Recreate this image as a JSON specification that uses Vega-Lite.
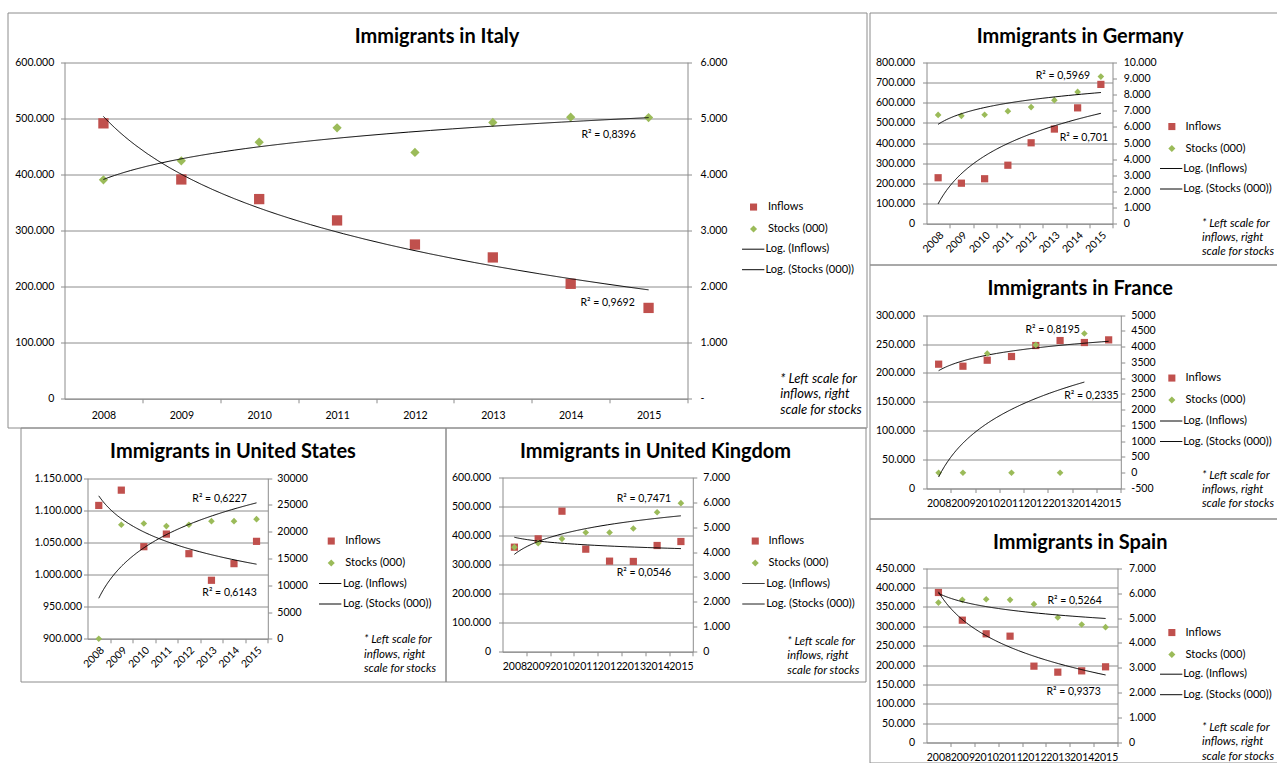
{
  "$schema": "https://vega.github.io/schema/vega-lite/v6.json",
  "padding": {"left": 6.5, "top": 11.5, "right": 0, "bottom": 0},
  "datasets": {
    "mig": [
      {"c": "Italy", "i": 1, "inflows": 491000, "stocks": 3904},
      {"c": "Italy", "i": 2, "inflows": 391000, "stocks": 4242},
      {"c": "Italy", "i": 3, "inflows": 356000, "stocks": 4574},
      {"c": "Italy", "i": 4, "inflows": 318000, "stocks": 4830},
      {"c": "Italy", "i": 5, "inflows": 275000, "stocks": 4391},
      {"c": "Italy", "i": 6, "inflows": 252000, "stocks": 4926},
      {"c": "Italy", "i": 7, "inflows": 205000, "stocks": 5020},
      {"c": "Italy", "i": 8, "inflows": 162000, "stocks": 5014},
      {"c": "Germany", "i": 1, "inflows": 228000, "stocks": 6740},
      {"c": "Germany", "i": 2, "inflows": 201000, "stocks": 6680},
      {"c": "Germany", "i": 3, "inflows": 223000, "stocks": 6750},
      {"c": "Germany", "i": 4, "inflows": 290000, "stocks": 6970},
      {"c": "Germany", "i": 5, "inflows": 401000, "stocks": 7220},
      {"c": "Germany", "i": 6, "inflows": 469000, "stocks": 7650},
      {"c": "Germany", "i": 7, "inflows": 574000, "stocks": 8160},
      {"c": "Germany", "i": 8, "inflows": 690000, "stocks": 9110},
      {"c": "France", "i": 1, "inflows": 215200, "stocks": 0},
      {"c": "France", "i": 2, "inflows": 211700, "stocks": 0},
      {"c": "France", "i": 3, "inflows": 222100, "stocks": 3783},
      {"c": "France", "i": 4, "inflows": 228500, "stocks": 0},
      {"c": "France", "i": 5, "inflows": 247500, "stocks": 4058},
      {"c": "France", "i": 6, "inflows": 256100, "stocks": 0},
      {"c": "France", "i": 7, "inflows": 252700, "stocks": 4418},
      {"c": "France", "i": 8, "inflows": 257300, "stocks": null},
      {"c": "Spain", "i": 1, "inflows": 387300, "stocks": 5620},
      {"c": "Spain", "i": 2, "inflows": 315800, "stocks": 5730},
      {"c": "Spain", "i": 3, "inflows": 280600, "stocks": 5755},
      {"c": "Spain", "i": 4, "inflows": 274500, "stocks": 5730},
      {"c": "Spain", "i": 5, "inflows": 197100, "stocks": 5555},
      {"c": "Spain", "i": 6, "inflows": 181600, "stocks": 5020},
      {"c": "Spain", "i": 7, "inflows": 185000, "stocks": 4738},
      {"c": "Spain", "i": 8, "inflows": 195400, "stocks": 4631},
      {"c": "US", "i": 1, "inflows": 1107600, "stocks": 0},
      {"c": "US", "i": 2, "inflows": 1131400, "stocks": 21300},
      {"c": "US", "i": 3, "inflows": 1043400, "stocks": 21540},
      {"c": "US", "i": 4, "inflows": 1063000, "stocks": 21050},
      {"c": "US", "i": 5, "inflows": 1032500, "stocks": 21300},
      {"c": "US", "i": 6, "inflows": 991100, "stocks": 21970},
      {"c": "US", "i": 7, "inflows": 1017000, "stocks": 21970},
      {"c": "US", "i": 8, "inflows": 1051700, "stocks": 22350},
      {"c": "UK", "i": 1, "inflows": 359500, "stocks": 4194},
      {"c": "UK", "i": 2, "inflows": 388200, "stocks": 4355},
      {"c": "UK", "i": 3, "inflows": 483200, "stocks": 4529},
      {"c": "UK", "i": 4, "inflows": 352700, "stocks": 4782},
      {"c": "UK", "i": 5, "inflows": 311500, "stocks": 4782},
      {"c": "UK", "i": 6, "inflows": 310500, "stocks": 4943},
      {"c": "UK", "i": 7, "inflows": 365300, "stocks": 5597},
      {"c": "UK", "i": 8, "inflows": 379000, "stocks": 5958}
    ]
  },
  "bounds": "full",
  "spacing": 1,
  "resolve": {"scale": {"color": "independent", "shape": "independent", "strokeDash": "independent"}},
  "hconcat": [
    {
      "bounds": "flush",
      "spacing": 0,
      "resolve": {"scale": {"color": "independent", "shape": "independent", "strokeDash": "independent"}},
      "vconcat": [
        {
          "width": 859, "height": 415,
          "view": {"stroke": "#8c8c8c"},
          "title": {"text": "Immigrants in Italy"},
          "data": {"name": "mig"},
          "transform": [{"filter": "datum.c == 'Italy'"}],
          "layer": [
            {"layer": [
              {"mark": {"type": "point", "filled": true, "opacity": 1, "size": 106},
               "encoding": {
                 "x": {"field": "i", "type": "quantitative",
                       "scale": {"domain": [0.5, 8.5], "range": [57, 680], "nice": false, "zero": false},
                       "axis": {"values": [1,2,3,4,5,6,7,8], "tickCount": 30, "labelExpr": "'' + (2007 + datum.value)",
                                "tickOffset": 38.94, "labelOffset": -38.94,
                                "offset": -28.7, "labelPadding": 7.5, "labelAngle": 0, "title": null}},
                 "y": {"field": "inflows", "type": "quantitative",
                       "scale": {"domain": [0, 600000], "range": [386.3, 49.7], "nice": false, "zero": false},
                       "axis": {"orient": "left", "values": [0,100000,200000,300000,400000,500000,600000], "tickCount": 30, "format": ",d",
                                "offset": -57, "labelPadding": 6.7, "grid": true, "title": null}},
                 "color": {"datum": "Inflows", "scale": {"domain": ["Inflows", "Stocks (000)"], "range": ["#C0504D", "#9BBB59"]},
                           "legend": {"orient": "none", "legendX": 740.5, "legendY": 189, "title": null, "symbolSize": 50, "labelOffset": 8.8, "rowPadding": 10}},
                 "shape": {"datum": "Inflows", "scale": {"domain": ["Inflows", "Stocks (000)"], "range": ["square", "diamond"]},
                           "legend": {"orient": "none", "legendX": 740.5, "legendY": 189, "title": null, "symbolSize": 50, "labelOffset": 8.8, "rowPadding": 10}}
               }},
              {"transform": [{"regression": "inflows", "on": "i", "method": "log"}],
               "mark": {"type": "line", "color": "#000", "strokeWidth": 1},
               "encoding": {
                 "x": {"field": "i", "type": "quantitative"},
                 "y": {"field": "inflows", "type": "quantitative"},
                 "strokeDash": {"datum": "Log. (Inflows)", "scale": {"domain": ["Log. (Inflows)", "Log. (Stocks (000))"], "range": [[1, 0], [1, 0]]},
                                "legend": {"orient": "none", "legendX": 733.7, "legendY": 224.7, "title": null, "symbolType": "stroke", "symbolSize": 497, "symbolStrokeWidth": 1, "symbolStrokeColor": "#000", "labelOffset": 0.3, "rowPadding": 2.5}}
               }},
              {"transform": [{"regression": "inflows", "on": "i", "method": "log"}, {"filter": "datum.i > 7.99"}],
               "mark": {"type": "text", "text": "R² = 0,9692", "dx": -41, "dy": 13},
               "encoding": {"x": {"field": "i", "type": "quantitative"}, "y": {"field": "inflows", "type": "quantitative"}}}
            ]},
            {"layer": [
              {"mark": {"type": "point", "filled": true, "opacity": 1, "size": 86},
               "encoding": {
                 "x": {"field": "i", "type": "quantitative"},
                 "y": {"field": "stocks", "type": "quantitative",
                       "scale": {"domain": [0, 6000], "range": [386.3, 49.7], "nice": false, "zero": false},
                       "axis": {"orient": "right", "values": [0,1000,2000,3000,4000,5000,6000], "tickCount": 30, "format": ",d",
                                "labelExpr": "datum.value == 0 ? '-' : datum.label",
                                "offset": -179, "labelPadding": 8.6, "grid": false,
                                "title": ["* Left scale for", "inflows, right", "scale for stocks"],
                                "titleFontSize": 13, "titleX": 92.3, "titleY": 360, "titleLineHeight": 15.3}},
                 "color": {"datum": "Stocks (000)", "scale": {"domain": ["Inflows", "Stocks (000)"], "range": ["#C0504D", "#9BBB59"]},
                           "legend": {"orient": "none", "legendX": 740.5, "legendY": 189, "title": null, "symbolSize": 50, "labelOffset": 8.8, "rowPadding": 10}},
                 "shape": {"datum": "Stocks (000)", "scale": {"domain": ["Inflows", "Stocks (000)"], "range": ["square", "diamond"]},
                           "legend": {"orient": "none", "legendX": 740.5, "legendY": 189, "title": null, "symbolSize": 50, "labelOffset": 8.8, "rowPadding": 10}}
               }},
              {"transform": [{"regression": "stocks", "on": "i", "method": "log"}],
               "mark": {"type": "line", "color": "#000", "strokeWidth": 1},
               "encoding": {
                 "x": {"field": "i", "type": "quantitative"},
                 "y": {"field": "stocks", "type": "quantitative"},
                 "strokeDash": {"datum": "Log. (Stocks (000))", "scale": {"domain": ["Log. (Inflows)", "Log. (Stocks (000))"], "range": [[1, 0], [1, 0]]},
                                "legend": {"orient": "none", "legendX": 733.7, "legendY": 224.7, "title": null, "symbolType": "stroke", "symbolSize": 497, "symbolStrokeWidth": 1, "symbolStrokeColor": "#000", "labelOffset": 0.3, "rowPadding": 2.5}}
               }},
              {"transform": [{"regression": "stocks", "on": "i", "method": "log"}, {"filter": "datum.i > 7.99"}],
               "mark": {"type": "text", "text": "R² = 0,8396", "dx": -40, "dy": 17},
               "encoding": {"x": {"field": "i", "type": "quantitative"}, "y": {"field": "stocks", "type": "quantitative"}}}
            ]}
          ],
          "resolve": {"scale": {"y": "independent"}}
        },
        {
          "bounds": "flush",
          "spacing": 0,
          "resolve": {"scale": {"color": "independent", "shape": "independent", "strokeDash": "independent"}},
          "hconcat": [
            {"width": 13, "height": 254, "data": {"values": []}, "mark": "point"},
            {
              "width": 425, "height": 254,
              "view": {"stroke": "#8c8c8c"},
              "title": {"text": "Immigrants in United States"},
              "data": {"name": "mig"},
              "transform": [{"filter": "datum.c == 'US'"}],
              "layer": [
                {"layer": [
                  {"mark": {"type": "point", "filled": true, "opacity": 1, "size": 52},
                   "encoding": {
                     "x": {"field": "i", "type": "quantitative",
                           "scale": {"domain": [0.5, 8.5], "range": [67, 247.3], "nice": false, "zero": false},
                           "axis": {"values": [1,2,3,4,5,6,7,8], "tickCount": 30, "labelExpr": "'' + (2007 + datum.value)",
                                    "tickOffset": 11.27, "labelOffset": -11.27,
                                    "offset": -42.7, "labelPadding": 2, "labelAngle": -45, "title": null}},
                     "y": {"field": "inflows", "type": "quantitative",
                           "scale": {"domain": [900000, 1150000], "range": [211.3, 50.7], "nice": false, "zero": false},
                           "axis": {"orient": "left", "values": [900000,950000,1000000,1050000,1100000,1150000], "tickCount": 30, "format": ",d",
                                    "offset": -67, "labelPadding": 2, "grid": true, "title": null}},
                     "color": {"datum": "Inflows", "scale": {"domain": ["Inflows", "Stocks (000)"], "range": ["#C0504D", "#9BBB59"]},
                               "legend": {"orient": "none", "legendX": 305.2, "legendY": 108, "title": null, "symbolSize": 50, "labelOffset": 8.5, "rowPadding": 10}},
                     "shape": {"datum": "Inflows", "scale": {"domain": ["Inflows", "Stocks (000)"], "range": ["square", "diamond"]},
                               "legend": {"orient": "none", "legendX": 305.2, "legendY": 108, "title": null, "symbolSize": 50, "labelOffset": 8.5, "rowPadding": 10}}
                   }},
                  {"transform": [{"regression": "inflows", "on": "i", "method": "log"}],
                   "mark": {"type": "line", "color": "#000", "strokeWidth": 1},
                   "encoding": {
                     "x": {"field": "i", "type": "quantitative"},
                     "y": {"field": "inflows", "type": "quantitative"},
                     "strokeDash": {"datum": "Log. (Inflows)", "scale": {"domain": ["Log. (Inflows)", "Log. (Stocks (000))"], "range": [[1, 0], [1, 0]]},
                                    "legend": {"orient": "none", "legendX": 297.7, "legendY": 144, "title": null, "symbolType": "stroke", "symbolSize": 497, "symbolStrokeWidth": 1, "symbolStrokeColor": "#000", "labelOffset": 0.7, "rowPadding": 2.5}}
                   }},
                  {"transform": [{"regression": "inflows", "on": "i", "method": "log"}, {"filter": "datum.i > 7.99"}],
                   "mark": {"type": "text", "text": "R² = 0,6143", "dx": -27, "dy": 29},
                   "encoding": {"x": {"field": "i", "type": "quantitative"}, "y": {"field": "inflows", "type": "quantitative"}}}
                ]},
                {"layer": [
                  {"mark": {"type": "point", "filled": true, "opacity": 1, "size": 44},
                   "encoding": {
                     "x": {"field": "i", "type": "quantitative"},
                     "y": {"field": "stocks", "type": "quantitative",
                           "scale": {"domain": [0, 30000], "range": [211.3, 50.7], "nice": false, "zero": false},
                           "axis": {"orient": "right", "values": [0,5000,10000,15000,20000,25000,30000], "tickCount": 30, "format": "d",
                                    "offset": -177.7, "labelPadding": 5, "grid": false,
                                    "title": ["* Left scale for", "inflows, right", "scale for stocks"],
                                    "titleFontSize": 11.5, "titleX": 95.7, "titleY": 206.2, "titleLineHeight": 14.5}},
                     "color": {"datum": "Stocks (000)", "scale": {"domain": ["Inflows", "Stocks (000)"], "range": ["#C0504D", "#9BBB59"]},
                               "legend": {"orient": "none", "legendX": 305.2, "legendY": 108, "title": null, "symbolSize": 50, "labelOffset": 8.5, "rowPadding": 10}},
                     "shape": {"datum": "Stocks (000)", "scale": {"domain": ["Inflows", "Stocks (000)"], "range": ["square", "diamond"]},
                               "legend": {"orient": "none", "legendX": 305.2, "legendY": 108, "title": null, "symbolSize": 50, "labelOffset": 8.5, "rowPadding": 10}}
                   }},
                  {"transform": [{"regression": "stocks", "on": "i", "method": "log"}],
                   "mark": {"type": "line", "color": "#000", "strokeWidth": 1},
                   "encoding": {
                     "x": {"field": "i", "type": "quantitative"},
                     "y": {"field": "stocks", "type": "quantitative"},
                     "strokeDash": {"datum": "Log. (Stocks (000))", "scale": {"domain": ["Log. (Inflows)", "Log. (Stocks (000))"], "range": [[1, 0], [1, 0]]},
                                    "legend": {"orient": "none", "legendX": 297.7, "legendY": 144, "title": null, "symbolType": "stroke", "symbolSize": 497, "symbolStrokeWidth": 1, "symbolStrokeColor": "#000", "labelOffset": 0.7, "rowPadding": 2.5}}
                   }},
                  {"transform": [{"regression": "stocks", "on": "i", "method": "log"}, {"filter": "datum.i > 7.99"}],
                   "mark": {"type": "text", "text": "R² = 0,6227", "dx": -37, "dy": -4},
                   "encoding": {"x": {"field": "i", "type": "quantitative"}, "y": {"field": "stocks", "type": "quantitative"}}}
                ]}
              ],
              "resolve": {"scale": {"y": "independent"}}
            },
            {
              "width": 420, "height": 254,
              "view": {"stroke": "#8c8c8c"},
              "title": {"text": "Immigrants in United Kingdom"},
              "data": {"name": "mig"},
              "transform": [{"filter": "datum.c == 'UK'"}],
              "layer": [
                {"layer": [
                  {"mark": {"type": "point", "filled": true, "opacity": 1, "size": 52},
                   "encoding": {
                     "x": {"field": "i", "type": "quantitative",
                           "scale": {"domain": [0.5, 8.5], "range": [57, 247.3], "nice": false, "zero": false},
                           "axis": {"values": [1,2,3,4,5,6,7,8], "tickCount": 30, "labelExpr": "'' + (2007 + datum.value)",
                                    "tickOffset": 11.89, "labelOffset": -11.89,
                                    "offset": -29.7, "labelPadding": 5.8, "labelAngle": 0, "title": null}},
                     "y": {"field": "inflows", "type": "quantitative",
                           "scale": {"domain": [0, 600000], "range": [224.3, 49.7], "nice": false, "zero": false},
                           "axis": {"orient": "left", "values": [0,100000,200000,300000,400000,500000,600000], "tickCount": 30, "format": ",d",
                                    "offset": -57, "labelPadding": 8, "grid": true, "title": null}},
                     "color": {"datum": "Inflows", "scale": {"domain": ["Inflows", "Stocks (000)"], "range": ["#C0504D", "#9BBB59"]},
                               "legend": {"orient": "none", "legendX": 304.2, "legendY": 108, "title": null, "symbolSize": 50, "labelOffset": 7.8, "rowPadding": 10}},
                     "shape": {"datum": "Inflows", "scale": {"domain": ["Inflows", "Stocks (000)"], "range": ["square", "diamond"]},
                               "legend": {"orient": "none", "legendX": 304.2, "legendY": 108, "title": null, "symbolSize": 50, "labelOffset": 7.8, "rowPadding": 10}}
                   }},
                  {"transform": [{"regression": "inflows", "on": "i", "method": "log"}],
                   "mark": {"type": "line", "color": "#000", "strokeWidth": 1},
                   "encoding": {
                     "x": {"field": "i", "type": "quantitative"},
                     "y": {"field": "inflows", "type": "quantitative"},
                     "strokeDash": {"datum": "Log. (Inflows)", "scale": {"domain": ["Log. (Inflows)", "Log. (Stocks (000))"], "range": [[1, 0], [1, 0]]},
                                    "legend": {"orient": "none", "legendX": 296, "legendY": 144, "title": null, "symbolType": "stroke", "symbolSize": 497, "symbolStrokeWidth": 1, "symbolStrokeColor": "#000", "labelOffset": 0.7, "rowPadding": 2.5}}
                   }},
                  {"transform": [{"regression": "inflows", "on": "i", "method": "log"}, {"filter": "datum.i > 7.99"}],
                   "mark": {"type": "text", "text": "R² = 0,0546", "dx": -37, "dy": 24},
                   "encoding": {"x": {"field": "i", "type": "quantitative"}, "y": {"field": "inflows", "type": "quantitative"}}}
                ]},
                {"layer": [
                  {"mark": {"type": "point", "filled": true, "opacity": 1, "size": 44},
                   "encoding": {
                     "x": {"field": "i", "type": "quantitative"},
                     "y": {"field": "stocks", "type": "quantitative",
                           "scale": {"domain": [0, 7000], "range": [224.3, 49.7], "nice": false, "zero": false},
                           "axis": {"orient": "right", "values": [0,1000,2000,3000,4000,5000,6000,7000], "tickCount": 30, "format": ",d",
                                    "offset": -172.7, "labelPadding": 6, "grid": false,
                                    "title": ["* Left scale for", "inflows, right", "scale for stocks"],
                                    "titleFontSize": 11.5, "titleX": 94, "titleY": 207.8, "titleLineHeight": 14.5}},
                     "color": {"datum": "Stocks (000)", "scale": {"domain": ["Inflows", "Stocks (000)"], "range": ["#C0504D", "#9BBB59"]},
                               "legend": {"orient": "none", "legendX": 304.2, "legendY": 108, "title": null, "symbolSize": 50, "labelOffset": 7.8, "rowPadding": 10}},
                     "shape": {"datum": "Stocks (000)", "scale": {"domain": ["Inflows", "Stocks (000)"], "range": ["square", "diamond"]},
                               "legend": {"orient": "none", "legendX": 304.2, "legendY": 108, "title": null, "symbolSize": 50, "labelOffset": 7.8, "rowPadding": 10}}
                   }},
                  {"transform": [{"regression": "stocks", "on": "i", "method": "log"}],
                   "mark": {"type": "line", "color": "#000", "strokeWidth": 1},
                   "encoding": {
                     "x": {"field": "i", "type": "quantitative"},
                     "y": {"field": "stocks", "type": "quantitative"},
                     "strokeDash": {"datum": "Log. (Stocks (000))", "scale": {"domain": ["Log. (Inflows)", "Log. (Stocks (000))"], "range": [[1, 0], [1, 0]]},
                                    "legend": {"orient": "none", "legendX": 296, "legendY": 144, "title": null, "symbolType": "stroke", "symbolSize": 497, "symbolStrokeWidth": 1, "symbolStrokeColor": "#000", "labelOffset": 0.7, "rowPadding": 2.5}}
                   }},
                  {"transform": [{"regression": "stocks", "on": "i", "method": "log"}, {"filter": "datum.i > 7.99"}],
                   "mark": {"type": "text", "text": "R² = 0,7471", "dx": -37, "dy": -17},
                   "encoding": {"x": {"field": "i", "type": "quantitative"}, "y": {"field": "stocks", "type": "quantitative"}}}
                ]}
              ],
              "resolve": {"scale": {"y": "independent"}}
            }
          ]
        }
      ]
    },
    {
      "bounds": "flush",
      "spacing": 0,
      "resolve": {"scale": {"color": "independent", "shape": "independent", "strokeDash": "independent"}},
      "vconcat": [
        {
          "width": 408, "height": 252,
          "view": {"stroke": "#8c8c8c"},
          "title": {"text": "Immigrants in Germany", "dx": 6.7},
          "data": {"name": "mig"},
          "transform": [{"filter": "datum.c == 'Germany'"}],
          "layer": [
            {"layer": [
              {"mark": {"type": "point", "filled": true, "opacity": 1, "size": 52},
               "encoding": {
                 "x": {"field": "i", "type": "quantitative",
                       "scale": {"domain": [0.5, 8.5], "range": [57, 243], "nice": false, "zero": false},
                       "axis": {"values": [1,2,3,4,5,6,7,8], "tickCount": 30, "labelExpr": "'' + (2007 + datum.value)",
                                "tickOffset": 11.625, "labelOffset": -11.625,
                                "offset": -40.7, "labelPadding": 2, "labelAngle": -45, "title": null}},
                 "y": {"field": "inflows", "type": "quantitative",
                       "scale": {"domain": [0, 800000], "range": [211.3, 49.7], "nice": false, "zero": false},
                       "axis": {"orient": "left", "values": [0,100000,200000,300000,400000,500000,600000,700000,800000], "tickCount": 30, "format": ",d",
                                "offset": -57, "labelPadding": 8, "grid": true, "title": null}},
                 "color": {"datum": "Inflows", "scale": {"domain": ["Inflows", "Stocks (000)"], "range": ["#C0504D", "#9BBB59"]},
                           "legend": {"orient": "none", "legendX": 296.8, "legendY": 108.5, "title": null, "symbolSize": 50, "labelOffset": 8.2, "rowPadding": 10}},
                 "shape": {"datum": "Inflows", "scale": {"domain": ["Inflows", "Stocks (000)"], "range": ["square", "diamond"]},
                           "legend": {"orient": "none", "legendX": 296.8, "legendY": 108.5, "title": null, "symbolSize": 50, "labelOffset": 8.2, "rowPadding": 10}}
               }},
              {"transform": [{"regression": "inflows", "on": "i", "method": "log"}],
               "mark": {"type": "line", "color": "#000", "strokeWidth": 1},
               "encoding": {
                 "x": {"field": "i", "type": "quantitative"},
                 "y": {"field": "inflows", "type": "quantitative"},
                 "strokeDash": {"datum": "Log. (Inflows)", "scale": {"domain": ["Log. (Inflows)", "Log. (Stocks (000))"], "range": [[1, 0], [1, 0]]},
                                "legend": {"orient": "none", "legendX": 289.7, "legendY": 144, "title": null, "symbolType": "stroke", "symbolSize": 497, "symbolStrokeWidth": 1, "symbolStrokeColor": "#000", "labelOffset": 0, "rowPadding": 2.5}}
               }},
              {"transform": [{"regression": "inflows", "on": "i", "method": "log"}, {"filter": "datum.i > 7.99"}],
               "mark": {"type": "text", "text": "R² = 0,701", "dx": -17, "dy": 25},
               "encoding": {"x": {"field": "i", "type": "quantitative"}, "y": {"field": "inflows", "type": "quantitative"}}}
            ]},
            {"layer": [
              {"mark": {"type": "point", "filled": true, "opacity": 1, "size": 44},
               "encoding": {
                 "x": {"field": "i", "type": "quantitative"},
                 "y": {"field": "stocks", "type": "quantitative",
                       "scale": {"domain": [0, 10000], "range": [211.3, 49.7], "nice": false, "zero": false},
                       "axis": {"orient": "right", "values": [0,1000,2000,3000,4000,5000,6000,7000,8000,9000,10000], "tickCount": 30, "format": ",d",
                                "offset": -165, "labelPadding": 6.7, "grid": false,
                                "title": ["* Left scale for", "inflows, right", "scale for stocks"],
                                "titleFontSize": 11.5, "titleX": 89, "titleY": 204.5, "titleLineHeight": 14.4}},
                 "color": {"datum": "Stocks (000)", "scale": {"domain": ["Inflows", "Stocks (000)"], "range": ["#C0504D", "#9BBB59"]},
                           "legend": {"orient": "none", "legendX": 296.8, "legendY": 108.5, "title": null, "symbolSize": 50, "labelOffset": 8.2, "rowPadding": 10}},
                 "shape": {"datum": "Stocks (000)", "scale": {"domain": ["Inflows", "Stocks (000)"], "range": ["square", "diamond"]},
                           "legend": {"orient": "none", "legendX": 296.8, "legendY": 108.5, "title": null, "symbolSize": 50, "labelOffset": 8.2, "rowPadding": 10}}
               }},
              {"transform": [{"regression": "stocks", "on": "i", "method": "log"}],
               "mark": {"type": "line", "color": "#000", "strokeWidth": 1},
               "encoding": {
                 "x": {"field": "i", "type": "quantitative"},
                 "y": {"field": "stocks", "type": "quantitative"},
                 "strokeDash": {"datum": "Log. (Stocks (000))", "scale": {"domain": ["Log. (Inflows)", "Log. (Stocks (000))"], "range": [[1, 0], [1, 0]]},
                                "legend": {"orient": "none", "legendX": 289.7, "legendY": 144, "title": null, "symbolType": "stroke", "symbolSize": 497, "symbolStrokeWidth": 1, "symbolStrokeColor": "#000", "labelOffset": 0, "rowPadding": 2.5}}
               }},
              {"transform": [{"regression": "stocks", "on": "i", "method": "log"}, {"filter": "datum.i > 7.99"}],
               "mark": {"type": "text", "text": "R² = 0,5969", "dx": -38, "dy": -17},
               "encoding": {"x": {"field": "i", "type": "quantitative"}, "y": {"field": "stocks", "type": "quantitative"}}}
            ]}
          ],
          "resolve": {"scale": {"y": "independent"}}
        },
        {
          "width": 408, "height": 254,
          "view": {"stroke": "#8c8c8c"},
          "title": {"text": "Immigrants in France", "dx": 6.7},
          "data": {"name": "mig"},
          "transform": [{"filter": "datum.c == 'France'"}],
          "layer": [
            {"layer": [
              {"mark": {"type": "point", "filled": true, "opacity": 1, "size": 52},
               "encoding": {
                 "x": {"field": "i", "type": "quantitative",
                       "scale": {"domain": [0.5, 8.5], "range": [57, 251.3], "nice": false, "zero": false},
                       "axis": {"values": [1,2,3,4,5,6,7,8], "tickCount": 30, "labelExpr": "'' + (2007 + datum.value)",
                                "tickOffset": 12.14, "labelOffset": -12.14,
                                "offset": -30, "labelPadding": 5.7, "labelAngle": 0, "title": null}},
                 "y": {"field": "inflows", "type": "quantitative",
                       "scale": {"domain": [0, 300000], "range": [224, 50.7], "nice": false, "zero": false},
                       "axis": {"orient": "left", "values": [0,50000,100000,150000,200000,250000,300000], "tickCount": 30, "format": ",d",
                                "offset": -57, "labelPadding": 8, "grid": true, "title": null}},
                 "color": {"datum": "Inflows", "scale": {"domain": ["Inflows", "Stocks (000)"], "range": ["#C0504D", "#9BBB59"]},
                           "legend": {"orient": "none", "legendX": 296.8, "legendY": 108, "title": null, "symbolSize": 50, "labelOffset": 8.2, "rowPadding": 10}},
                 "shape": {"datum": "Inflows", "scale": {"domain": ["Inflows", "Stocks (000)"], "range": ["square", "diamond"]},
                           "legend": {"orient": "none", "legendX": 296.8, "legendY": 108, "title": null, "symbolSize": 50, "labelOffset": 8.2, "rowPadding": 10}}
               }},
              {"transform": [{"regression": "inflows", "on": "i", "method": "log"}],
               "mark": {"type": "line", "color": "#000", "strokeWidth": 1},
               "encoding": {
                 "x": {"field": "i", "type": "quantitative"},
                 "y": {"field": "inflows", "type": "quantitative"},
                 "strokeDash": {"datum": "Log. (Inflows)", "scale": {"domain": ["Log. (Inflows)", "Log. (Stocks (000))"], "range": [[1, 0], [1, 0]]},
                                "legend": {"orient": "none", "legendX": 289.7, "legendY": 144.5, "title": null, "symbolType": "stroke", "symbolSize": 497, "symbolStrokeWidth": 1, "symbolStrokeColor": "#000", "labelOffset": 0, "rowPadding": 2.5}}
               }},
              {"transform": [{"regression": "inflows", "on": "i", "method": "log"}, {"filter": "datum.i > 7.99"}],
               "mark": {"type": "text", "text": "R² = 0,8195", "dx": -56, "dy": -11},
               "encoding": {"x": {"field": "i", "type": "quantitative"}, "y": {"field": "inflows", "type": "quantitative"}}}
            ]},
            {"layer": [
              {"mark": {"type": "point", "filled": true, "opacity": 1, "size": 44},
               "encoding": {
                 "x": {"field": "i", "type": "quantitative"},
                 "y": {"field": "stocks", "type": "quantitative",
                       "scale": {"domain": [-500, 5000], "range": [224, 50.7], "nice": false, "zero": false},
                       "axis": {"orient": "right", "values": [-500,0,500,1000,1500,2000,2500,3000,3500,4000,4500,5000], "tickCount": 30, "format": "d",
                                "offset": -156.7, "labelPadding": 6, "grid": false,
                                "title": ["* Left scale for", "inflows, right", "scale for stocks"],
                                "titleFontSize": 11.5, "titleX": 80.7, "titleY": 204.5, "titleLineHeight": 14.4}},
                 "color": {"datum": "Stocks (000)", "scale": {"domain": ["Inflows", "Stocks (000)"], "range": ["#C0504D", "#9BBB59"]},
                           "legend": {"orient": "none", "legendX": 296.8, "legendY": 108, "title": null, "symbolSize": 50, "labelOffset": 8.2, "rowPadding": 10}},
                 "shape": {"datum": "Stocks (000)", "scale": {"domain": ["Inflows", "Stocks (000)"], "range": ["square", "diamond"]},
                           "legend": {"orient": "none", "legendX": 296.8, "legendY": 108, "title": null, "symbolSize": 50, "labelOffset": 8.2, "rowPadding": 10}}
               }},
              {"transform": [{"regression": "stocks", "on": "i", "method": "log", "extent": [1, 7]}],
               "mark": {"type": "line", "color": "#000", "strokeWidth": 1},
               "encoding": {
                 "x": {"field": "i", "type": "quantitative"},
                 "y": {"field": "stocks", "type": "quantitative"},
                 "strokeDash": {"datum": "Log. (Stocks (000))", "scale": {"domain": ["Log. (Inflows)", "Log. (Stocks (000))"], "range": [[1, 0], [1, 0]]},
                                "legend": {"orient": "none", "legendX": 289.7, "legendY": 144.5, "title": null, "symbolType": "stroke", "symbolSize": 497, "symbolStrokeWidth": 1, "symbolStrokeColor": "#000", "labelOffset": 0, "rowPadding": 2.5}}
               }},
              {"transform": [{"regression": "stocks", "on": "i", "method": "log", "extent": [1, 7]}, {"filter": "datum.i > 6.99"}],
               "mark": {"type": "text", "text": "R² = 0,2335", "dx": 7, "dy": 14},
               "encoding": {"x": {"field": "i", "type": "quantitative"}, "y": {"field": "stocks", "type": "quantitative"}}}
            ]}
          ],
          "resolve": {"scale": {"y": "independent"}}
        },
        {
          "width": 408, "height": 244,
          "view": {"stroke": "#8c8c8c"},
          "title": {"text": "Immigrants in Spain", "dx": 6.7},
          "data": {"name": "mig"},
          "transform": [{"filter": "datum.c == 'Spain'"}],
          "layer": [
            {"layer": [
              {"mark": {"type": "point", "filled": true, "opacity": 1, "size": 52},
               "encoding": {
                 "x": {"field": "i", "type": "quantitative",
                       "scale": {"domain": [0.5, 8.5], "range": [57, 248], "nice": false, "zero": false},
                       "axis": {"values": [1,2,3,4,5,6,7,8], "tickCount": 30, "labelExpr": "'' + (2007 + datum.value)",
                                "tickOffset": 11.94, "labelOffset": -11.94,
                                "offset": -20, "labelPadding": 5.5, "labelAngle": 0, "title": null}},
                 "y": {"field": "inflows", "type": "quantitative",
                       "scale": {"domain": [0, 450000], "range": [224, 49.7], "nice": false, "zero": false},
                       "axis": {"orient": "left", "values": [0,50000,100000,150000,200000,250000,300000,350000,400000,450000], "tickCount": 30, "format": ",d",
                                "offset": -57, "labelPadding": 8, "grid": true, "title": null}},
                 "color": {"datum": "Inflows", "scale": {"domain": ["Inflows", "Stocks (000)"], "range": ["#C0504D", "#9BBB59"]},
                           "legend": {"orient": "none", "legendX": 296.8, "legendY": 108.5, "title": null, "symbolSize": 50, "labelOffset": 8.2, "rowPadding": 10}},
                 "shape": {"datum": "Inflows", "scale": {"domain": ["Inflows", "Stocks (000)"], "range": ["square", "diamond"]},
                           "legend": {"orient": "none", "legendX": 296.8, "legendY": 108.5, "title": null, "symbolSize": 50, "labelOffset": 8.2, "rowPadding": 10}}
               }},
              {"transform": [{"regression": "inflows", "on": "i", "method": "log"}],
               "mark": {"type": "line", "color": "#000", "strokeWidth": 1},
               "encoding": {
                 "x": {"field": "i", "type": "quantitative"},
                 "y": {"field": "inflows", "type": "quantitative"},
                 "strokeDash": {"datum": "Log. (Inflows)", "scale": {"domain": ["Log. (Inflows)", "Log. (Stocks (000))"], "range": [[1, 0], [1, 0]]},
                                "legend": {"orient": "none", "legendX": 289.7, "legendY": 143.7, "title": null, "symbolType": "stroke", "symbolSize": 497, "symbolStrokeWidth": 1, "symbolStrokeColor": "#000", "labelOffset": 0, "rowPadding": 2.5}}
               }},
              {"transform": [{"regression": "inflows", "on": "i", "method": "log"}, {"filter": "datum.i > 7.99"}],
               "mark": {"type": "text", "text": "R² = 0,9373", "dx": -32, "dy": 17},
               "encoding": {"x": {"field": "i", "type": "quantitative"}, "y": {"field": "inflows", "type": "quantitative"}}}
            ]},
            {"layer": [
              {"mark": {"type": "point", "filled": true, "opacity": 1, "size": 44},
               "encoding": {
                 "x": {"field": "i", "type": "quantitative"},
                 "y": {"field": "stocks", "type": "quantitative",
                       "scale": {"domain": [0, 7000], "range": [224, 49.7], "nice": false, "zero": false},
                       "axis": {"orient": "right", "values": [0,1000,2000,3000,4000,5000,6000,7000], "tickCount": 30, "format": ",d",
                                "offset": -160, "labelPadding": 7, "grid": false,
                                "title": ["* Left scale for", "inflows, right", "scale for stocks"],
                                "titleFontSize": 11.5, "titleX": 84, "titleY": 203.3, "titleLineHeight": 14.2}},
                 "color": {"datum": "Stocks (000)", "scale": {"domain": ["Inflows", "Stocks (000)"], "range": ["#C0504D", "#9BBB59"]},
                           "legend": {"orient": "none", "legendX": 296.8, "legendY": 108.5, "title": null, "symbolSize": 50, "labelOffset": 8.2, "rowPadding": 10}},
                 "shape": {"datum": "Stocks (000)", "scale": {"domain": ["Inflows", "Stocks (000)"], "range": ["square", "diamond"]},
                           "legend": {"orient": "none", "legendX": 296.8, "legendY": 108.5, "title": null, "symbolSize": 50, "labelOffset": 8.2, "rowPadding": 10}}
               }},
              {"transform": [{"regression": "stocks", "on": "i", "method": "log"}],
               "mark": {"type": "line", "color": "#000", "strokeWidth": 1},
               "encoding": {
                 "x": {"field": "i", "type": "quantitative"},
                 "y": {"field": "stocks", "type": "quantitative"},
                 "strokeDash": {"datum": "Log. (Stocks (000))", "scale": {"domain": ["Log. (Inflows)", "Log. (Stocks (000))"], "range": [[1, 0], [1, 0]]},
                                "legend": {"orient": "none", "legendX": 289.7, "legendY": 143.7, "title": null, "symbolType": "stroke", "symbolSize": 497, "symbolStrokeWidth": 1, "symbolStrokeColor": "#000", "labelOffset": 0, "rowPadding": 2.5}}
               }},
              {"transform": [{"regression": "stocks", "on": "i", "method": "log"}, {"filter": "datum.i > 7.99"}],
               "mark": {"type": "text", "text": "R² = 0,5264", "dx": -31, "dy": -17},
               "encoding": {"x": {"field": "i", "type": "quantitative"}, "y": {"field": "stocks", "type": "quantitative"}}}
            ]}
          ],
          "resolve": {"scale": {"y": "independent"}}
        }
      ]
    }
  ],
  "config": {
    "locale": {"number": {"decimal": ",", "thousands": ".", "grouping": [3], "currency": ["", " €"], "minus": "-"}},
    "view": {"stroke": null},
    "font": "Lato",
    "title": {"font": "Lato", "fontSize": 20, "fontWeight": "bold", "color": "#000", "anchor": "middle", "frame": "group", "baseline": "middle", "offset": -34},
    "axis": {"labelFont": "Lato", "labelFontSize": 10.5, "labelColor": "#000", "domainColor": "#8c8c8c", "tickColor": "#8c8c8c", "gridColor": "#8c8c8c",
             "tickSize": 4, "grid": false, "labelOverlap": false, "labelFlush": false, "labelBound": false,
             "titleFont": "Lato", "titleFontSize": 11.5, "titleFontStyle": "italic", "titleFontWeight": "normal", "titleColor": "#000",
             "titleAngle": 0, "titleAlign": "left", "titleBaseline": "top"},
    "legend": {"labelFont": "Lato", "labelFontSize": 11.1, "labelColor": "#000", "padding": 0},
    "text": {"font": "Lato", "fontSize": 10.5, "color": "#000"}
  }
}
